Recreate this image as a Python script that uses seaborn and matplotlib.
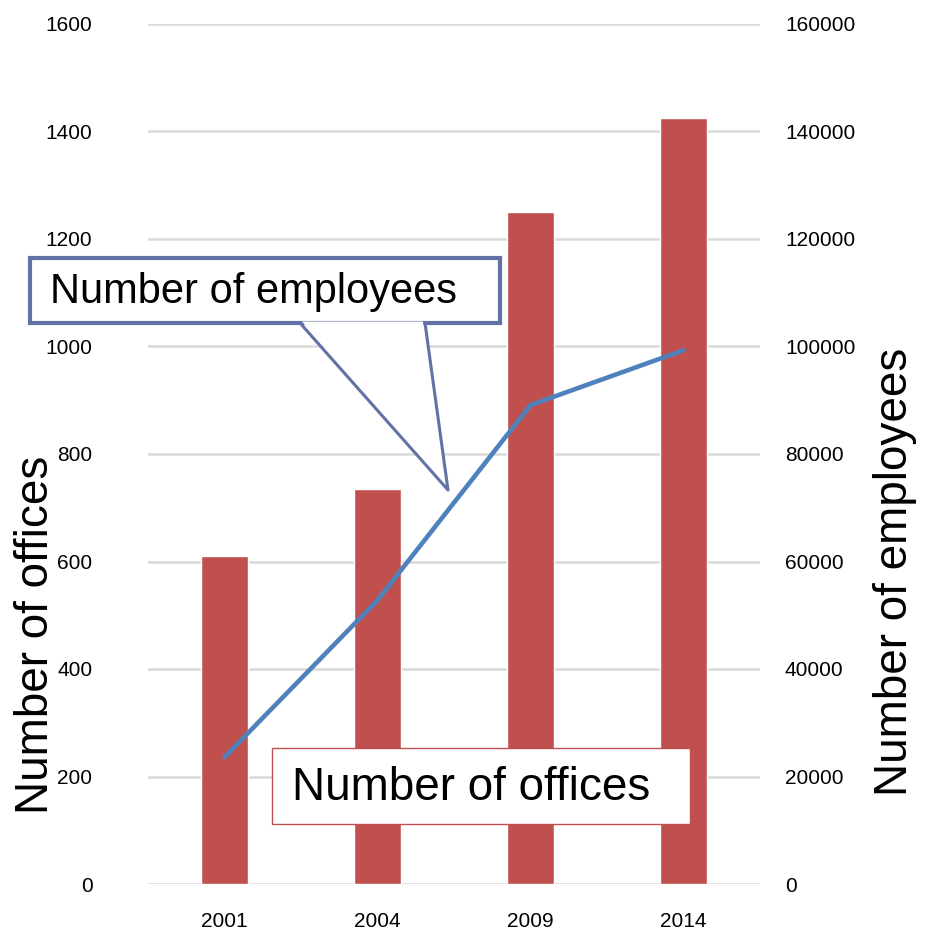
import matplotlib
matplotlib.use('Agg')
from matplotlib import pyplot as plt
from matplotlib.patches import Rectangle, Polygon
from matplotlib.lines import Line2D
import seaborn as sns
import pandas as pd

sns.set_theme(style='white')
plt.rcParams['font.family'] = ['Liberation Sans', 'DejaVu Sans']
plt.rcParams['text.color'] = 'black'

years = ['2001', '2004', '2009', '2014']
offices = [610, 735, 1250, 1425]
employees = [23600, 52800, 89100, 99300]

BAR_RED = '#c0504d'
LINE_BLUE = '#4f81bd'
CALLOUT_BLUE = '#6272a5'

df = pd.DataFrame({'year': years, 'offices': offices, 'employees': employees})

fig = plt.figure(figsize=(9.33, 9.44), dpi=100)
ax = fig.add_axes([148 / 933, 1 - 884 / 944, 612 / 933, 860 / 944])
ax2 = ax.twinx()

sns.barplot(data=df, x='year', y='offices', color=BAR_RED, saturation=1,
            width=0.31, ax=ax, zorder=2)
sns.lineplot(x=list(range(len(years))), y=employees, color=LINE_BLUE,
             linewidth=3.3, ax=ax2, solid_capstyle='round')

ax.set_ylim(0, 1600)
ax.set_yticks(range(0, 1601, 200))
ax2.set_ylim(0, 160000)
ax2.set_yticks(range(0, 160001, 20000))
ax.set_xlim(-0.5, 3.5)

ax.grid(axis='y', color='#d9d9d9', linewidth=1.8, zorder=0)
ax.set_axisbelow(True)
for a in (ax, ax2):
    for s in a.spines.values():
        s.set_visible(False)

ax.tick_params(axis='y', length=0, pad=40, labelsize=15, labelcolor='black')
ax.tick_params(axis='x', length=0, pad=20, labelsize=15, labelcolor='black')
ax2.tick_params(axis='y', length=0, pad=18, labelsize=15, labelcolor='black')

ax.set_xlabel('')
ax.set_ylabel('Number of offices', fontsize=33, color='black')
ax2.set_ylabel('Number of employees', fontsize=33, color='black', rotation=90)
ax.yaxis.set_label_coords(-0.183, 0.29)
ax2.yaxis.set_label_coords(1.2206, 0.363)
for lab in (ax.yaxis.label, ax2.yaxis.label):
    lab.set_va('center')
    lab.set_ha('center')


def fxy(x, y):
    return x / 933, 1 - y / 944


# callout for the employees line
x0, y0, x1, y1 = 30, 258, 500, 323
fig.patches.append(Rectangle(fxy(x0, y1), (x1 - x0) / 933, (y1 - y0) / 944,
                             transform=fig.transFigure, facecolor='white',
                             edgecolor=CALLOUT_BLUE, linewidth=3, zorder=5))
tip = [fxy(300, 323), fxy(448, 490), fxy(425, 323)]
fig.patches.append(Polygon([fxy(302, 321.5), fxy(448, 490), fxy(423, 321.5)],
                           closed=True, transform=fig.transFigure,
                           facecolor='white', edgecolor='none', zorder=6))
fig.lines.append(Line2D([p[0] for p in tip], [p[1] for p in tip],
                        transform=fig.transFigure, color=CALLOUT_BLUE,
                        linewidth=2.2, zorder=7))
fig.text(*fxy(50, 292), 'Number of employees', fontsize=30, ha='left',
         va='center', color='black', zorder=8)

# label box for the offices bars
x0, y0, x1, y1 = 272, 748, 690, 824
fig.patches.append(Rectangle(fxy(x0, y1), (x1 - x0) / 933, (y1 - y0) / 944,
                             transform=fig.transFigure, facecolor='white',
                             edgecolor=BAR_RED, linewidth=1, zorder=5))
fig.text(*fxy(292, 788), 'Number of offices', fontsize=33, ha='left',
         va='center', color='black', zorder=8)

fig.savefig('out.png', dpi=100)
